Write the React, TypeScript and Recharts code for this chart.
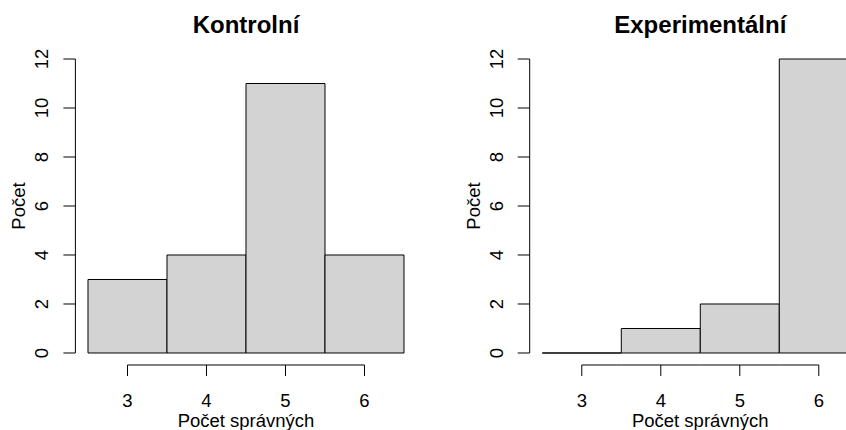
import { Bar, BarChart, XAxis, YAxis } from "recharts";

const bins = ["3", "4", "5", "6"];
const kontrolniCounts = [3, 4, 11, 4];
const experimentalniCounts = [0, 1, 2, 12];
const yTicks = [0, 2, 4, 6, 8, 10, 12];

const FONT = '"Liberation Sans", Arial, Helvetica, sans-serif';
const FS = 18.5;
const BAND = 79;
const PAD = 12.6;
const PLOT_W = BAND * bins.length + 2 * PAD;
const TOP = 59;
const PLOT_H = 294;
const H = 430;

// R draws empty bins as a flat outline, so use a path instead of a rect
function HistBar(props: any) {
  const { x, y, width, height } = props;
  if (x == null || y == null) return null;
  const d = `M${x},${y}h${width}v${height}h${-width}Z`;
  return <path d={d} fill="#d3d3d3" stroke="#000" strokeWidth={1} />;
}

// R-style x axis: line only from first to last tick
function XTick(props: any) {
  const { x, y, index, payload } = props;
  const half = BAND / 2;
  const x1 = index === 0 ? x : x - half;
  const x2 = index === bins.length - 1 ? x : x + half;
  return (
    <g>
      <line x1={x1} y1={y + 12} x2={x2} y2={y + 12} stroke="#000" />
      <line x1={x} y1={y + 12} x2={x} y2={y + 23} stroke="#000" />
      <text x={x} y={y + 54.3} textAnchor="middle" fontSize={FS} fontFamily={FONT} fill="#000">
        {payload.value}
      </text>
    </g>
  );
}

function YTick(props: any) {
  const { x, y, payload } = props;
  const bx = x - 15;
  return (
    <text
      x={bx}
      y={y}
      transform={`rotate(-90, ${bx}, ${y})`}
      textAnchor="middle"
      fontSize={FS}
      fontFamily={FONT}
      fill="#000"
    >
      {payload.value}
    </text>
  );
}

function XLabel({ cx }: { cx: number }) {
  return (
    <text x={cx} y={426.7} textAnchor="middle" fontSize={FS} fontFamily={FONT} fill="#000">
      Počet správných
    </text>
  );
}

function YLabel({ lx, ly }: { lx: number; ly: number }) {
  return (
    <text
      x={lx}
      y={ly}
      transform={`rotate(-90, ${lx}, ${ly})`}
      textAnchor="middle"
      fontSize={FS}
      fontFamily={FONT}
      fill="#000"
    >
      Počet
    </text>
  );
}

function Panel({ title, counts, axisW }: { title: string; counts: number[]; axisW: number }) {
  const data = bins.map((b, i) => ({ bin: b, count: counts[i] }));
  const cx = axisW + PLOT_W / 2;
  return (
    <div style={{ position: "relative", width: axisW + PLOT_W, height: H }}>
      <div
        style={{
          position: "absolute",
          left: cx - 150,
          width: 300,
          top: 11,
          textAlign: "center",
          fontFamily: FONT,
          fontWeight: "bold",
          fontSize: 24,
        }}
      >
        {title}
      </div>
      <BarChart
        width={axisW + PLOT_W}
        height={H}
        data={data}
        margin={{ top: TOP, right: 0, bottom: 0, left: 0 }}
        barCategoryGap={0}
        barGap={0}
      >
        <XAxis
          dataKey="bin"
          type="category"
          height={H - TOP - PLOT_H}
          padding={{ left: PAD, right: PAD }}
          axisLine={false}
          tickLine={false}
          tickSize={0}
          tickMargin={0}
          tick={<XTick />}
          interval={0}
          label={<XLabel cx={cx} />}
        />
        <YAxis
          width={axisW}
          domain={[0, 12]}
          ticks={yTicks}
          interval={0}
          axisLine={{ stroke: "#000" }}
          tickLine={{ stroke: "#000" }}
          tickSize={12}
          tickMargin={0}
          tick={<YTick />}
          label={<YLabel lx={axisW - 50} ly={TOP + PLOT_H / 2} />}
        />
        <Bar dataKey="count" shape={<HistBar />} isAnimationActive={false} />
      </BarChart>
    </div>
  );
}

export default function App() {
  return (
    <div
      style={{
        position: "absolute",
        left: 0,
        top: 0,
        width: 846,
        height: 430,
        overflow: "hidden",
        background: "#fff",
      }}
    >
      <div style={{ position: "absolute", left: 0, top: 0 }}>
        <Panel title="Kontrolní" counts={kontrolniCounts} axisW={75.4} />
      </div>
      <div style={{ position: "absolute", left: 423, top: 0 }}>
        <Panel title="Experimentální" counts={experimentalniCounts} axisW={106.7} />
      </div>
    </div>
  );
}
